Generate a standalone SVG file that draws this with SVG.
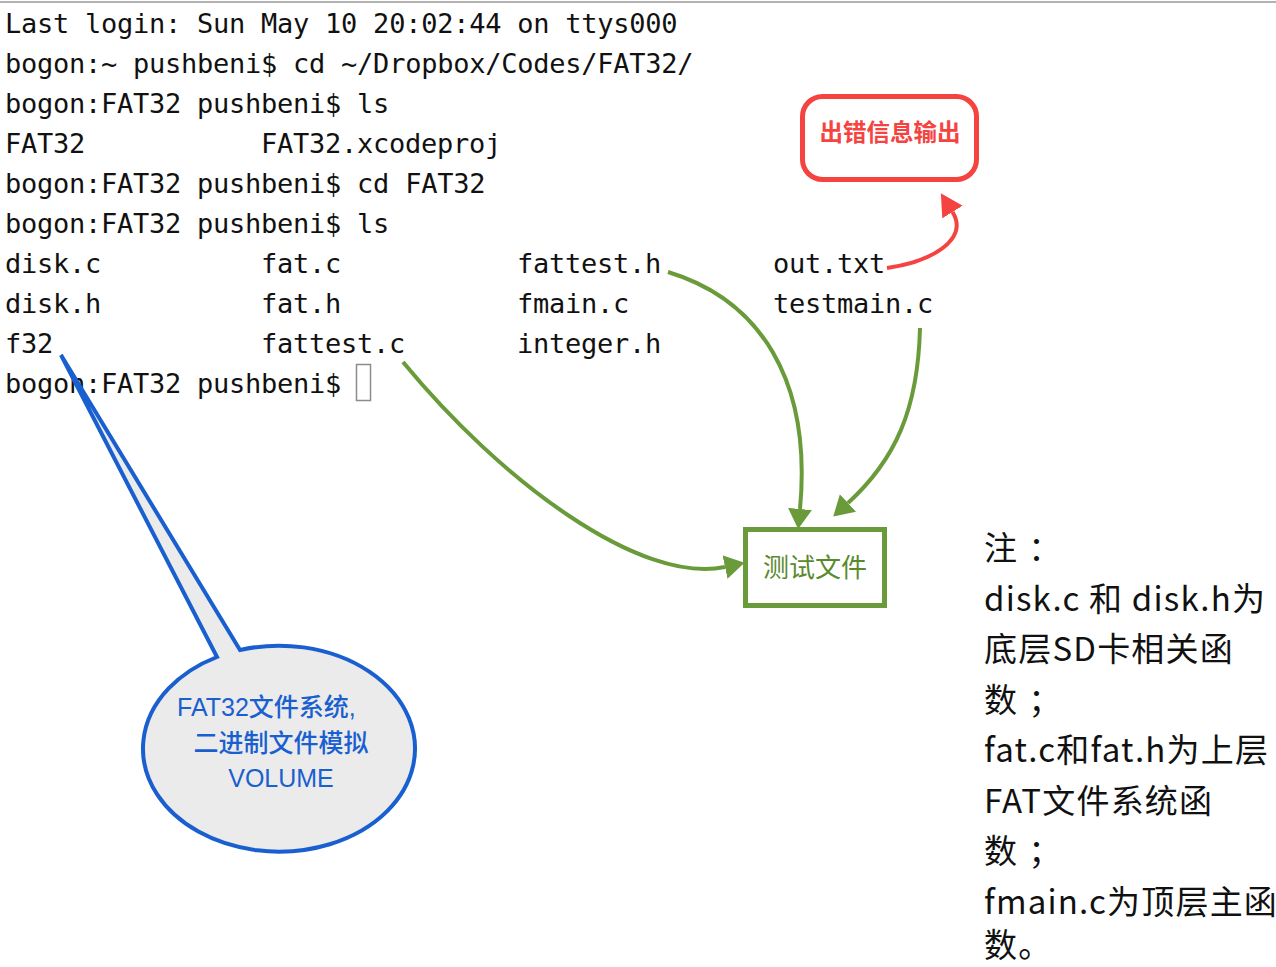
<svg xmlns="http://www.w3.org/2000/svg" width="1276" height="967" viewBox="0 0 1276 967">
<style>
.term{font-family:"DejaVu Sans Mono","Liberation Mono",monospace;font-size:27px;letter-spacing:-0.25px;fill:#111}
.note{font-family:"Noto Sans CJK SC","Noto Sans",sans-serif;font-size:33px;letter-spacing:1.2px;fill:#111}
.blue{font-family:"Liberation Sans","Noto Sans CJK SC",sans-serif;font-size:25px;font-weight:500;fill:#1a5fd0}
.green{fill:none;stroke:#6a9b3a;stroke-width:4}
.red{fill:none;stroke:#f5433f;stroke-width:4}
</style>
<defs>
<marker id="ag" markerUnits="userSpaceOnUse" markerWidth="22" markerHeight="26" refX="0" refY="12" orient="auto">
<path d="M0,0 L20,12 L0,24 z" fill="#6a9b3a"/>
</marker>
<marker id="ar" markerUnits="userSpaceOnUse" markerWidth="24" markerHeight="26" refX="0" refY="12" orient="auto">
<path d="M0,0 L22,12 L0,24 z" fill="#f5433f"/>
</marker>
</defs>
<rect x="0" y="0" width="1276" height="967" fill="#ffffff"/>
<line x1="0" y1="2" x2="1276" y2="2" stroke="#b3b3b3" stroke-width="2"/>
<g id="terminal">
<text class="term" x="5" y="33">Last login: Sun May 10 20:02:44 on ttys000</text>
<text class="term" x="5" y="73">bogon:~ pushbeni$ cd ~/Dropbox/Codes/FAT32/</text>
<text class="term" x="5" y="113">bogon:FAT32 pushbeni$ ls</text>
<text class="term" x="5" y="153">FAT32</text>
<text class="term" x="261" y="153">FAT32.xcodeproj</text>
<text class="term" x="5" y="193">bogon:FAT32 pushbeni$ cd FAT32</text>
<text class="term" x="5" y="233">bogon:FAT32 pushbeni$ ls</text>
<text class="term" x="5" y="273">disk.c</text>
<text class="term" x="261" y="273">fat.c</text>
<text class="term" x="517" y="273">fattest.h</text>
<text class="term" x="773" y="273">out.txt</text>
<text class="term" x="5" y="313">disk.h</text>
<text class="term" x="261" y="313">fat.h</text>
<text class="term" x="517" y="313">fmain.c</text>
<text class="term" x="773" y="313">testmain.c</text>
<text class="term" x="5" y="353">f32</text>
<text class="term" x="261" y="353">fattest.c</text>
<text class="term" x="517" y="353">integer.h</text>
<text class="term" x="5" y="393">bogon:FAT32 pushbeni$</text>
<rect x="356.5" y="364.5" width="14" height="36" fill="none" stroke="#8c8c8c" stroke-width="1.5"/>
</g>
<g id="connectors">
<path class="green" d="M668,272 C760,300 812,380 800,509" marker-end="url(#ag)"/>
<path class="green" d="M920,328 C918,410 895,460 848,503" marker-end="url(#ag)"/>
<path class="green" d="M403,362 C500,480 640,585 725,567" marker-end="url(#ag)"/>
<path class="red" d="M887,268 C930,262 970,240 952.5,212" marker-end="url(#ar)"/>
</g>
<g id="error-output">
<rect x="802.5" y="96.5" width="174" height="83" rx="20" fill="none" stroke="#f5433f" stroke-width="5"/>
<text x="890" y="141" text-anchor="middle" font-family="Noto Sans CJK SC, sans-serif" font-size="23.5" font-weight="bold" fill="#f5433f">出错信息输出</text>
</g>
<g id="test-files">
<rect x="745.5" y="529.5" width="139" height="76" fill="none" stroke="#6a9b3a" stroke-width="5"/>
<text x="815" y="577" text-anchor="middle" font-family="Noto Sans CJK SC, sans-serif" font-size="26" fill="#5a8a2e">测试文件</text>
</g>
<g id="volume-callout">
<path d="M240,650 L61,355 L217,657 A136,103 0 1 0 240,650 Z" fill="#ebebeb" stroke="#1a5fd0" stroke-width="4" stroke-linejoin="miter"/>
<text class="blue" x="177" y="716">FAT32文件系统,</text>
<text class="blue" x="281" y="752" text-anchor="middle">二进制文件模拟</text>
<text class="blue" x="281" y="787" text-anchor="middle">VOLUME</text>
</g>
<g id="note">
<text class="note" x="984" y="560">注<tspan dx="10">：</tspan></text>
<text class="note" x="984" y="610.5">disk.c 和 disk.h为</text>
<text class="note" x="984" y="661">底层SD卡相关函</text>
<text class="note" x="984" y="711.5">数<tspan dx="10">；</tspan></text>
<text class="note" x="984" y="762">fat.c和fat.h为上层</text>
<text class="note" x="984" y="812.5">FAT文件系统函</text>
<text class="note" x="984" y="863">数<tspan dx="10">；</tspan></text>
<text class="note" x="984" y="913.5">fmain.c为顶层主函</text>
<text class="note" x="984" y="957">数。</text>
</g>
</svg>
